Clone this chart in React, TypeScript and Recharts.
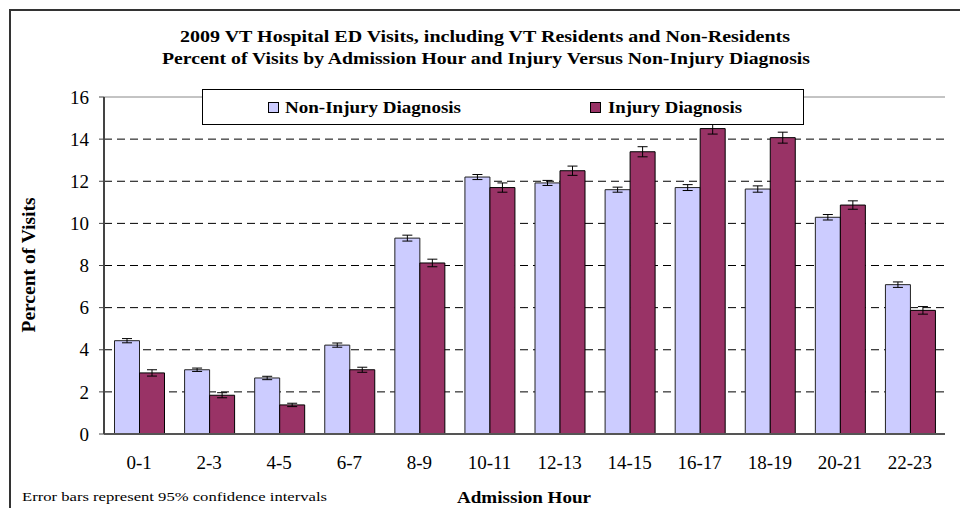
import React from "react";
import {
  BarChart,
  Bar,
  XAxis,
  YAxis,
  CartesianGrid,
  ErrorBar,
  Legend,
  ReferenceLine,
} from "recharts";

const categories = ["0-1", "2-3", "4-5", "6-7", "8-9", "10-11", "12-13", "14-15", "16-17", "18-19", "20-21", "22-23"];
const nonInjury = [4.43, 3.05, 2.66, 4.22, 9.3, 12.2, 11.92, 11.6, 11.7, 11.63, 10.29, 7.09];
const nonInjuryErr = [0.1, 0.08, 0.08, 0.1, 0.14, 0.12, 0.12, 0.12, 0.14, 0.15, 0.13, 0.13];
const injury = [2.9, 1.84, 1.38, 3.05, 8.12, 11.7, 12.5, 13.4, 14.5, 14.07, 10.87, 5.87];
const injuryErr = [0.15, 0.12, 0.08, 0.12, 0.18, 0.22, 0.22, 0.24, 0.26, 0.26, 0.2, 0.18];
const yTicks = [0, 2, 4, 6, 8, 10, 12, 14, 16];
const gridValues = [2, 4, 6, 8, 10, 12, 14];

const titleLine1 = "2009 VT Hospital ED Visits, including VT Residents and Non-Residents";
const titleLine2 = "Percent of Visits by Admission Hour and Injury Versus Non-Injury Diagnosis";
const seriesNames = ["Non-Injury Diagnosis", "Injury Diagnosis"];
const seriesColors = ["#CCCCFF", "#993366"];

const data = categories.map((c, i) => ({
  cat: c,
  nonInjury: nonInjury[i],
  nonInjuryErr: nonInjuryErr[i],
  injury: injury[i],
  injuryErr: injuryErr[i],
}));

const FONT = '"Liberation Serif", "Times New Roman", serif';
const W = 960;
const H = 500;

const legendLayout = [
  { sq: 65, tx: 82, len: 176 },
  { sq: 387, tx: 405, len: 134 },
];

const LegendContent = (props: any) => {
  const payload = [...(props.payload || [])].sort(
    (a: any, b: any) => seriesNames.indexOf(a.value) - seriesNames.indexOf(b.value)
  );
  return (
    <div
      style={{
        width: 602,
        height: 36,
        border: "1px solid #000",
        background: "#fff",
        boxSizing: "border-box",
      }}
    >
      <svg width={600} height={34} style={{ display: "block" }}>
        {payload.map((p: any, i: number) => (
          <g key={i}>
            <rect
              x={legendLayout[i].sq + 0.5}
              y={12.5}
              width={10}
              height={10}
              fill={p.color}
              stroke="#000"
              strokeWidth={1}
            />
            <text
              x={legendLayout[i].tx}
              y={23}
              fontFamily={FONT}
              fontSize={17}
              fontWeight="bold"
              fill="#000"
              textLength={legendLayout[i].len}
              lengthAdjust="spacingAndGlyphs"
            >
              {p.value}
            </text>
          </g>
        ))}
      </svg>
    </div>
  );
};

export default function App() {
  return (
    <div style={{ position: "relative", width: W, height: H }}>
      <svg width={W} height={H} style={{ position: "absolute", left: 0, top: 0 }}>
        <rect x={2} y={2} width={1200} height={1200} fill="#fff" stroke="#333" strokeWidth={2} />
      </svg>
      <div style={{ position: "absolute", left: 0, top: 0 }}>
        <BarChart
          width={W}
          height={H}
          data={data}
          margin={{ top: 89, right: 23, left: 0, bottom: 44 }}
          barCategoryGap="15%"
          barGap={0}
        >
          <CartesianGrid
            horizontal={true}
            vertical={false}
            horizontalValues={gridValues}
            stroke="#000"
            strokeDasharray="8 5"
          />
          <XAxis
            dataKey="cat"
            height={30}
            tickLine={false}
            tickSize={0}
            tickMargin={22}
            axisLine={{ stroke: "#555", strokeWidth: 2 }}
            tick={{ fontFamily: FONT, fontSize: 19, fill: "#000" }}
            interval={0}
          />
          <YAxis
            width={96}
            domain={[0, 16]}
            ticks={yTicks}
            tickSize={5}
            tickMargin={10}
            allowDataOverflow
            axisLine={{ stroke: "#444", strokeWidth: 2 }}
            tickLine={{ stroke: "#444" }}
            tick={{ fontFamily: FONT, fontSize: 19, fill: "#000" }}
            interval={0}
          />
          <YAxis
            yAxisId="right"
            orientation="right"
            width={0}
            domain={[0, 16]}
            tick={false}
            tickLine={false}
            axisLine={{ stroke: "#888", strokeWidth: 1 }}
          />
          <ReferenceLine y={16} stroke="#888" strokeWidth={1} />
          <Legend
            layout="horizontal"
            verticalAlign="middle"
            align="center"
            content={<LegendContent />}
            wrapperStyle={{ position: "absolute", left: 194, top: 81, width: 602, height: 36 }}
          />
          <Bar
            dataKey="nonInjury"
            name={seriesNames[0]}
            fill={seriesColors[0]}
            stroke="#222"
            strokeWidth={1}
            isAnimationActive={false}
          >
            <ErrorBar dataKey="nonInjuryErr" width={5} stroke="#000" strokeWidth={1} />
          </Bar>
          <Bar
            dataKey="injury"
            name={seriesNames[1]}
            fill={seriesColors[1]}
            stroke="#000"
            strokeWidth={1}
            isAnimationActive={false}
          >
            <ErrorBar dataKey="injuryErr" width={5} stroke="#000" strokeWidth={1} />
          </Bar>
        </BarChart>
      </div>
      <svg
        width={W}
        height={H}
        style={{ position: "absolute", left: 0, top: 0, pointerEvents: "none" }}
      >
        <g fontFamily={FONT} fill="#000" fontWeight="bold">
          <text x={477} y={34} textAnchor="middle" fontSize={16} textLength={610} lengthAdjust="spacingAndGlyphs">
            {titleLine1}
          </text>
          <text x={478} y={56} textAnchor="middle" fontSize={16} textLength={648} lengthAdjust="spacingAndGlyphs">
            {titleLine2}
          </text>
          <text
            x={27}
            y={257}
            textAnchor="middle"
            fontSize={19}
            transform="rotate(-90 27 257)"
            textLength={135}
            lengthAdjust="spacingAndGlyphs"
          >
            Percent of Visits
          </text>
          <text x={516} y={495} textAnchor="middle" fontSize={17} textLength={134} lengthAdjust="spacingAndGlyphs">
            Admission Hour
          </text>
        </g>
        <text
          x={14}
          y={493}
          fontFamily={FONT}
          fontSize={13}
          fill="#000"
          textLength={305}
          lengthAdjust="spacingAndGlyphs"
        >
          Error bars represent 95% confidence intervals
        </text>
      </svg>
    </div>
  );
}
